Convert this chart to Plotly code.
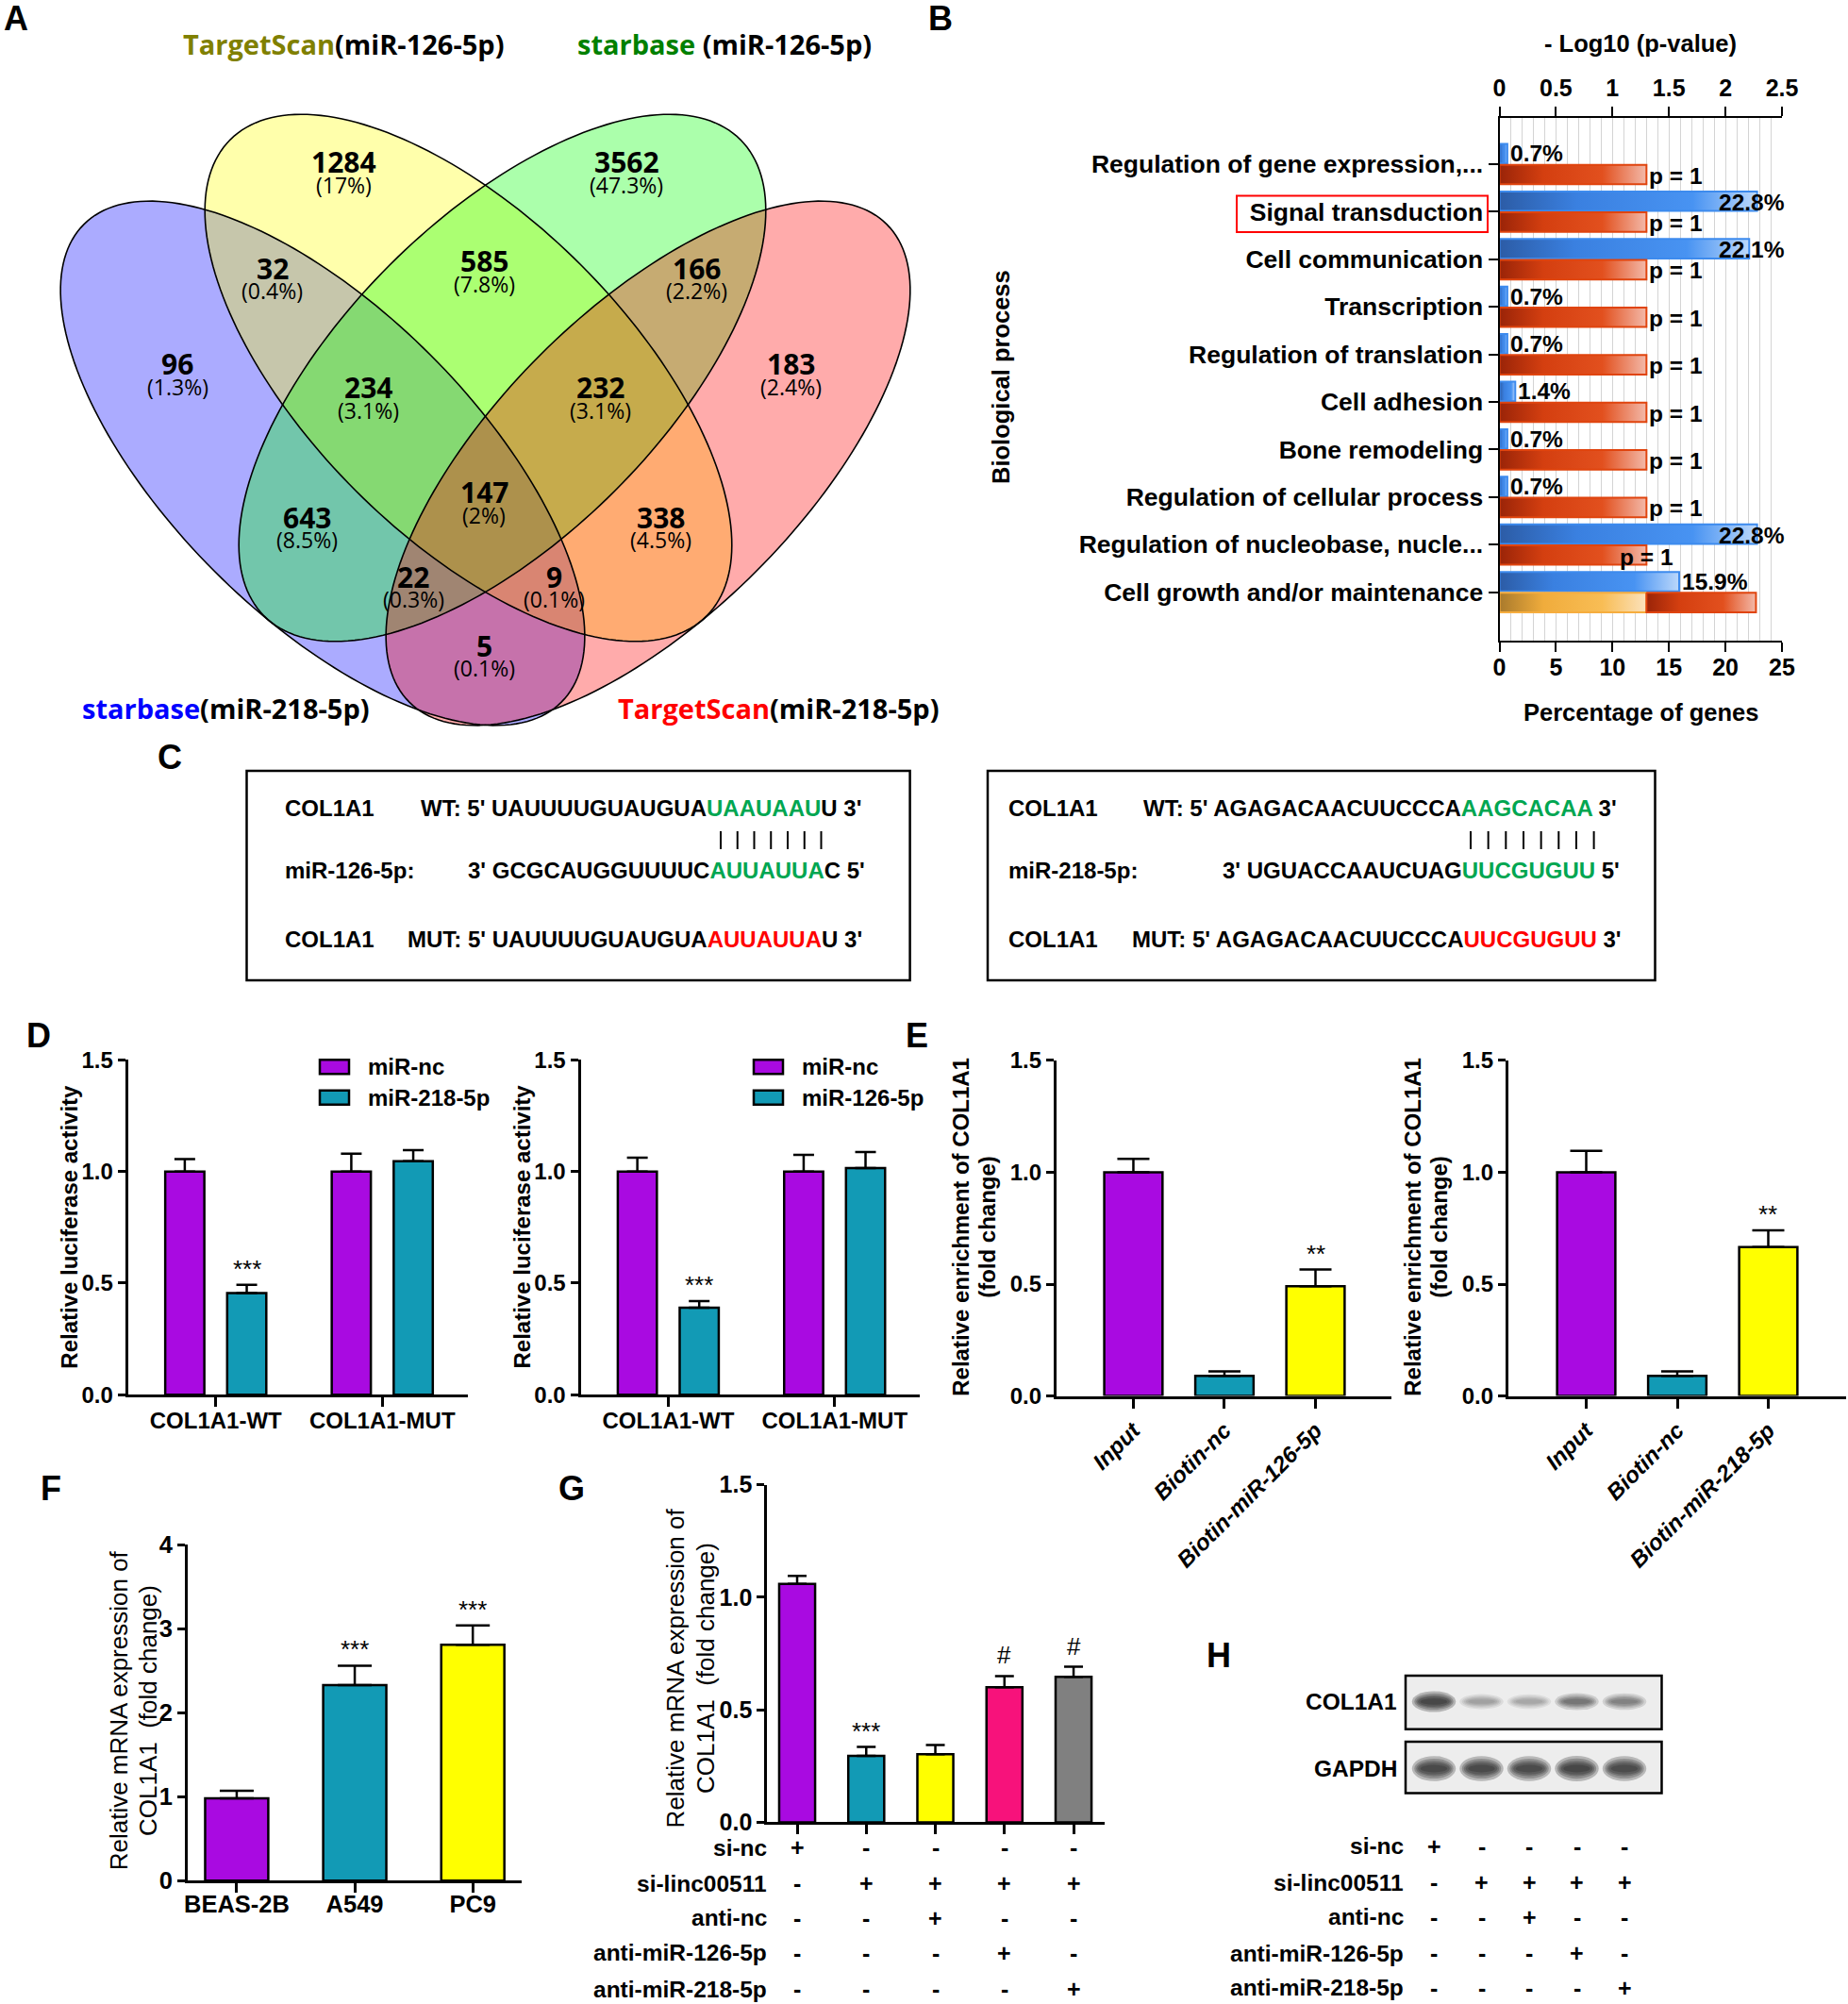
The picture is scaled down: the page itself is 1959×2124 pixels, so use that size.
import numpy as np
import plotly.graph_objects as go

W, H = 1959, 2124
SANS = "Liberation Sans, Arial, Helvetica, sans-serif"
VFONT = "Open Sans, Noto Sans, DejaVu Sans, sans-serif"

# ============================ DATA ============================
# (A) Venn diagram: predicted targets of the two miRNAs in two databases
venn_db = ["starbase", "TargetScan", "starbase", "TargetScan"]
venn_mirna = ["(miR-218-5p)", "(miR-126-5p)", " (miR-126-5p)", "(miR-218-5p)"]
venn_region_counts = [1284, 3562, 32, 585, 166, 96, 234, 232, 183, 147, 643, 338, 22, 9, 5]

# (B) GO biological process enrichment
go_terms = ["Regulation of gene expression,...", "Signal transduction", "Cell communication",
            "Transcription", "Regulation of translation", "Cell adhesion", "Bone remodeling",
            "Regulation of cellular process", "Regulation of nucleobase, nucle...",
            "Cell growth and/or maintenance"]
go_percent = [0.7, 22.8, 22.1, 0.7, 0.7, 1.4, 0.7, 0.7, 22.8, 15.9]
go_neglog10_p = [1.301, 1.301, 1.301, 1.301, 1.301, 1.301, 1.301, 1.301, 1.301, 2.27]
go_p_label = ["p = 1", "p = 1", "p = 1", "p = 1", "p = 1", "p = 1", "p = 1", "p = 1", "p = 1", ""]
go_reference = 1.301  # -log10(0.05)

# (C) binding sites: [label, prefix, matched segment, suffix]
site_left = [["COL1A1", "WT: 5' UAUUUUGUAUGUA", "UAAUAAU", "U 3'"],
             ["miR-126-5p:", "3' GCGCAUGGUUUUC", "AUUAUUA", "C 5'"],
             ["COL1A1", "MUT: 5' UAUUUUGUAUGUA", "AUUAUUA", "U 3'"]]
site_right = [["COL1A1", "WT: 5' AGAGACAACUUCCCA", "AAGCACAA", " 3'"],
              ["miR-218-5p:", "3' UGUACCAAUCUAG", "UUCGUGUU", " 5'"],
              ["COL1A1", "MUT: 5' AGAGACAACUUCCCA", "UUCGUGUU", " 3'"]]

# (D) luciferase reporter
luc_groups = ["COL1A1-WT", "COL1A1-MUT"]
d1_series = ["miR-nc", "miR-218-5p"]
d1_nc = [1.00, 1.00]
d1_nc_err = [0.055, 0.08]
d1_mir = [0.455, 1.046]
d1_mir_err = [0.037, 0.05]
d1_sig = ["***", ""]
d2_series = ["miR-nc", "miR-126-5p"]
d2_nc = [1.00, 1.00]
d2_nc_err = [0.062, 0.075]
d2_mir = [0.39, 1.015]
d2_mir_err = [0.03, 0.072]
d2_sig = ["***", ""]

# (E) RNA pull-down
e1_cats = ["Input", "Biotin-nc", "Biotin-miR-126-5p"]
e1_vals = [1.00, 0.09, 0.49]
e1_err = [0.06, 0.02, 0.075]
e1_sig = ["", "", "**"]
e2_cats = ["Input", "Biotin-nc", "Biotin-miR-218-5p"]
e2_vals = [1.00, 0.09, 0.665]
e2_err = [0.095, 0.02, 0.075]
e2_sig = ["", "", "**"]

# (F) COL1A1 mRNA in cell lines
f_cats = ["BEAS-2B", "A549", "PC9"]
f_vals = [0.98, 2.33, 2.81]
f_err = [0.09, 0.23, 0.23]
f_sig = ["", "***", "***"]

# (G) rescue experiment
g_vals = [1.06, 0.295, 0.303, 0.60, 0.646]
g_err = [0.035, 0.04, 0.04, 0.05, 0.045]
g_sig = ["", "***", "", "#", "#"]

cond_rows = ["si-nc", "si-linc00511", "anti-nc", "anti-miR-126-5p", "anti-miR-218-5p"]
cond_signs = [["+", "-", "-", "-", "-"],
              ["-", "+", "+", "+", "+"],
              ["-", "-", "+", "-", "-"],
              ["-", "-", "-", "+", "-"],
              ["-", "-", "-", "-", "+"]]

# (H) western blot band intensities (relative darkness)
blot_targets = ["COL1A1", "GAPDH"]
blot_intensity = [[1.0, 0.30, 0.27, 0.55, 0.50],
                  [0.95, 0.95, 0.93, 0.97, 0.93]]

# ============================ STYLE ============================
PURPLE, TEAL, YELLOW, PINK, GRAY = "#a90ae1", "#129ab5", "#ffff00", "#f7127b", "#808080"
VENN_TITLE_COLORS = ["#0000ff", "#808000", "#008000", "#ff0000"]
VENN_FILL = ["rgba(0,0,255,0.33)", "rgba(255,255,0,0.33)", "rgba(0,255,0,0.33)", "rgba(255,0,0,0.33)"]
# ellipses (pixel geometry): cx, cy, a, b, angle
VENN_ELLIPSES = [(342, 491, 358, 162, 45), (496.5, 400.5, 357, 169, 45),
                 (532.5, 400.5, 357, 169, -45), (687, 491, 358, 162, -45)]
VENN_TITLE_POS = [(239, 750), (364, 46), (768, 46), (825, 750)]
VENN_LABEL_POS = [(364, 172.5), (664, 172.5), (288.5, 285), (513, 277.5), (738.6, 285),
                  (188, 386.5), (390, 411.5), (636, 411.5), (838, 386.5), (513, 522.5),
                  (325, 549), (700.8, 549), (438, 612), (587, 612), (513, 685)]

fig = go.Figure()
lay = {}
shapes = []
ann = []


def X(px):
    return px / W


def Y(py):
    return 1 - py / H


def axname(n):
    return ("xaxis", "yaxis") if n == 1 else (f"xaxis{n}", f"yaxis{n}")


def axref(n):
    return ("x", "y") if n == 1 else (f"x{n}", f"y{n}")


def text(x, y, s, size=24, weight="bold", color="black", family=SANS, xanchor="center",
         yanchor="middle", angle=0, xref="paper", yref="paper", style="normal", yshift=0, xshift=0):
    if xref == "paper":
        x = X(x)
    if yref == "paper":
        y = Y(y)
    ann.append(dict(x=x, y=y, xref=xref, yref=yref, text=s, showarrow=False, xanchor=xanchor,
                    yanchor=yanchor, textangle=angle, yshift=yshift, xshift=xshift,
                    font=dict(family=family, size=size, color=color, weight=weight, style=style)))


def rect(x0, y0, x1, y1, line="black", lw=2.5, fill=None):
    shapes.append(dict(type="rect", xref="paper", yref="paper", x0=X(x0), x1=X(x1), y0=Y(y1), y1=Y(y0),
                       line=dict(color=line, width=lw), fillcolor=fill if fill else "rgba(0,0,0,0)",
                       layer="above"))


def hidden_axis(n, xdom, ydom, xr, yr):
    xn, yn = axname(n)
    xr_, yr_ = axref(n)
    lay[xn] = dict(domain=[X(xdom[0]), X(xdom[1])], range=xr, visible=False, anchor=yr_, fixedrange=True)
    lay[yn] = dict(domain=[Y(ydom[1]), Y(ydom[0])], range=yr, visible=False, anchor=xr_, fixedrange=True)


def bar_axes(n, xdom, ydom, xr, yr, ydtick, yfmt, tickvals, ticktext, xtickangle=0, xstyle="normal",
             fsize=24, xstandoff=0):
    xn, yn = axname(n)
    xr_, yr_ = axref(n)
    lay[xn] = dict(domain=[X(xdom[0]), X(xdom[1])], range=xr, anchor=yr_, showline=True, linecolor="black",
                   linewidth=3, ticks="outside", ticklen=10, tickwidth=3, tickcolor="black",
                   tickmode="array", tickvals=tickvals, ticktext=ticktext, tickangle=xtickangle,
                   tickfont=dict(family=SANS, size=fsize, color="black", weight="bold", style=xstyle),
                   showgrid=False, zeroline=False, fixedrange=True, automargin=False,
                   ticklabelstandoff=xstandoff)
    lay[yn] = dict(domain=[Y(ydom[1]), Y(ydom[0])], range=yr, anchor=xr_, showline=True, linecolor="black",
                   linewidth=3, ticks="outside", ticklen=8, tickwidth=3, tickcolor="black",
                   tickmode="linear", tick0=0, dtick=ydtick, tickformat=yfmt,
                   tickfont=dict(family=SANS, size=fsize, color="black", weight="bold"),
                   showgrid=False, zeroline=False, fixedrange=True, automargin=False)


def bars(n, xs, ys, errs, colors, width, capw):
    xr_, yr_ = axref(n)
    fig.add_trace(go.Bar(x=xs, y=ys, width=width,
                         marker=dict(color=colors, line=dict(color="black", width=2.5)),
                         error_y=dict(type="data", array=errs, arrayminus=[0] * len(errs), symmetric=False,
                                      color="black", thickness=2.5, width=capw),
                         xaxis=xr_, yaxis=yr_, showlegend=False, hoverinfo="skip"))


def sig(n, xs, ys, errs, marks):
    xr_, yr_ = axref(n)
    for x, y, e, m in zip(xs, ys, errs, marks):
        if m:
            text(x, y + e, m, size=26, weight="normal", xref=xr_, yref=yr_, yanchor="bottom",
                 yshift=0 if "*" in m else 5)


# ============================ PANEL A: Venn ============================
hidden_axis(1, (0, 990), (0, 780), [0, 990], [780, 0])


def ellipse_path(cx, cy, a, b, ang, n=200):
    t = np.linspace(0, 2 * np.pi, n, endpoint=False)
    r = np.radians(ang)
    xs = cx + a * np.cos(t) * np.cos(r) - b * np.sin(t) * np.sin(r)
    ys = cy + a * np.cos(t) * np.sin(r) + b * np.sin(t) * np.cos(r)
    return "M " + " L ".join(f"{x:.2f},{y:.2f}" for x, y in zip(xs, ys)) + " Z"


for (cx, cy, a, b, ang), fc in zip(VENN_ELLIPSES, VENN_FILL):
    shapes.append(dict(type="path", xref="x", yref="y", path=ellipse_path(cx, cy, a, b, ang),
                       fillcolor=fc, line=dict(width=0), layer="above"))
for (cx, cy, a, b, ang) in VENN_ELLIPSES:
    shapes.append(dict(type="path", xref="x", yref="y", path=ellipse_path(cx, cy, a, b, ang),
                       fillcolor="rgba(0,0,0,0)", line=dict(color="black", width=1.6), layer="above"))

total = sum(venn_region_counts)
for c, (lx, ly) in zip(venn_region_counts, VENN_LABEL_POS):
    p = round(100 * c / total, 1)
    ps = f"{p:.1f}".rstrip("0").rstrip(".")
    text(lx, ly - 1, str(c), size=30, family=VFONT, xref="x", yref="y")
    text(lx, ly + 23, f"({ps}%)", size=23, weight="normal", family=VFONT, xref="x", yref="y")

for db, mir, col, (tx, ty) in zip(venn_db, venn_mirna, VENN_TITLE_COLORS, VENN_TITLE_POS):
    text(tx, ty, f'<span style="color:{col}">{db}</span>{mir}', size=29, family=VFONT, xref="x", yref="y")

# ============================ PANEL B: GO bars ============================
B_X0, B_X1, B_Y0, B_Y1 = 1589.5, 1889, 125, 678.5
lay["xaxis2"] = dict(domain=[X(B_X0), X(B_X1)], range=[0, 25], anchor="y2", side="bottom",
                     showline=True, linecolor="black", linewidth=2, ticks="outside", ticklen=10, tickwidth=2,
                     tickcolor="black", tickmode="linear", tick0=0, dtick=5,
                     tickfont=dict(family=SANS, size=25, color="black", weight="bold"),
                     showgrid=True, gridcolor="#d4d4d4", gridwidth=1,
                     minor=dict(tick0=0, dtick=1, showgrid=True, gridcolor="#d4d4d4", gridwidth=1),
                     zeroline=False, fixedrange=True, ticklabelstandoff=-5, automargin=False)
lay["xaxis3"] = dict(domain=[X(B_X0), X(B_X1)], range=[0, 2.5], anchor="y2", overlaying="x2", side="top",
                     showline=True, linecolor="black", linewidth=2, ticks="outside", ticklen=10, tickwidth=2,
                     tickcolor="black", tickmode="linear", tick0=0, dtick=0.5,
                     tickfont=dict(family=SANS, size=25, color="black", weight="bold"),
                     showgrid=False, zeroline=False, fixedrange=True, ticklabelstandoff=1, automargin=False)
lay["yaxis2"] = dict(domain=[Y(B_Y1), Y(B_Y0)], range=[10.01, -0.97], anchor="x2", showline=True,
                     linecolor="black", linewidth=2, ticks="outside", ticklen=10, tickwidth=2, tickcolor="black",
                     tickmode="array", tickvals=list(range(len(go_terms))), ticktext=go_terms,
                     tickfont=dict(family=SANS, size=26.5, color="black", weight="bold"),
                     showgrid=False, zeroline=False, fixedrange=True, automargin=False)

BLUE_CS = [[0, "#2c5ca6"], [0.3, "#3a80e0"], [0.75, "#4893f2"], [1, "#bcd8fb"]]
RED_CS = [[0, "#9a2408"], [0.3, "#d43f10"], [0.7, "#e2501e"], [1, "#f3b9a9"]]
YEL_CS = [[0, "#a97a2c"], [0.3, "#f0ac3c"], [0.7, "#f8bd55"], [1, "#fbe2bd"]]


def grad_bar(xref, x0, x1, yc, half, cs, border):
    fig.add_trace(go.Scatter(x=[x0, x1, x1, x0, x0], y=[yc - half, yc - half, yc + half, yc + half, yc - half],
                             mode="lines", fill="toself",
                             fillgradient=dict(type="horizontal", colorscale=cs),
                             line=dict(color=border, width=2), xaxis=xref, yaxis="y2",
                             showlegend=False, hoverinfo="skip"))


P_LABEL_CENTERED = {8}
for i, (v, p, pl) in enumerate(zip(go_percent, go_neglog10_p, go_p_label)):
    grad_bar("x2", 0, v, i - 0.22, 0.205, BLUE_CS, "#3d8bee")
    if p > go_reference:
        grad_bar("x3", 0, go_reference, i + 0.22, 0.205, YEL_CS, "#f6ad3e")
        grad_bar("x3", go_reference, p, i + 0.22, 0.205, RED_CS, "#e0440e")
    else:
        grad_bar("x3", 0, p, i + 0.22, 0.205, RED_CS, "#e0440e")
    lab = f"{v}%"
    if v + 6 <= 25:
        text(v, i - 0.22, lab, size=24.5, xref="x2", yref="y2", xanchor="left", xshift=1)
    else:
        text(25, i - 0.2, lab, size=24.5, xref="x2", yref="y2", xanchor="right", xshift=5)
    if pl:
        if i in P_LABEL_CENTERED:
            text(p, i + 0.26, pl, size=24.5, xref="x3", yref="y2", xanchor="center")
        else:
            text(p, i + 0.24, pl, size=24.5, xref="x3", yref="y2", xanchor="left", xshift=1)

text(1739, 46, "- Log10 (p-value)", size=25.5)
text(1739, 755, "Percentage of genes", size=25.5)
text(1061, 400, "Biological process", size=25.5, angle=-90)
rect(1311, 207.5, 1577, 246, line="#ff0000", lw=2)

# ============================ PANEL C: sequences ============================
rect(261.5, 817, 964.6, 1039)
rect(1047, 817, 1754.5, 1039)
SEQ_Y = [857, 923, 995]
C_LEFT = dict(label_x=300, seq_x=[444, 494, 430], bar_x0=764, bar_dx=17.75)
C_RIGHT = dict(label_x=1067, seq_x=[1210, 1294, 1198], bar_x0=1559, bar_dx=18.66)
for site, cfg in ((site_left, C_LEFT), (site_right, C_RIGHT)):
    for k, (lab, pre, seg, suf) in enumerate(site):
        col = "#ff0000" if k == 2 else "#00a651"
        text(cfg["label_x"], SEQ_Y[k], lab, size=24, xanchor="left")
        text(cfg["seq_x"][k], SEQ_Y[k], f'{pre}<span style="color:{col}">{seg}</span>{suf}',
             size=24, xanchor="left")
    for j in range(len(site[0][2])):
        bx = cfg["bar_x0"] + j * cfg["bar_dx"]
        shapes.append(dict(type="line", xref="paper", yref="paper", x0=X(bx), x1=X(bx), y0=Y(881), y1=Y(900),
                           line=dict(color="black", width=2)))

# ============================ PANEL D ============================
D_SHIFT, D_W = 0.186, 0.235
gx = list(range(len(luc_groups)))
for n, xdom, nc, nce, mir, mire, sg, series, leg_x in (
        (4, (135.7, 495.6), d1_nc, d1_nc_err, d1_mir, d1_mir_err, d1_sig, d1_series, 339),
        (5, (615.5, 975), d2_nc, d2_nc_err, d2_mir, d2_mir_err, d2_sig, d2_series, 799)):
    bar_axes(n, xdom, (1123.3, 1478.3), [-0.527, 1.512], [0, 1.5], 0.5, ".1f", gx, luc_groups, xstandoff=-6)
    xa = [g - D_SHIFT for g in gx]
    xb = [g + D_SHIFT for g in gx]
    bars(n, xa, nc, nce, PURPLE, D_W, 11)
    bars(n, xb, mir, mire, TEAL, D_W, 11)
    sig(n, xb, mir, mire, sg)
    for k, (s, col) in enumerate(zip(series, (PURPLE, TEAL))):
        yy = 1130.7 + k * 32.5
        rect(leg_x, yy - 7.5, leg_x + 31, yy + 7.5, lw=2.5, fill=col)
        text(leg_x + 49, yy, s, size=24, xanchor="left")
    text(xdom[0] - 63, 1300, "Relative luciferase activity", size=24, angle=-90)

# ============================ PANEL E ============================
E_W = 0.64
for n, xdom, xr, cats, vals, errs, sg in (
        (6, (1119.8, 1475), [-0.846, 2.834], e1_cats, e1_vals, e1_err, e1_sig),
        (7, (1598.8, 1957), [-0.857, 2.855], e2_cats, e2_vals, e2_err, e2_sig)):
    xs = list(range(len(cats)))
    bar_axes(n, xdom, (1123.8, 1479.6), xr, [0, 1.5], 0.5, ".1f", xs, cats, xtickangle=-45, xstyle="italic")
    bars(n, xs, vals, errs, [PURPLE, TEAL, YELLOW], E_W, 17)
    sig(n, xs, vals, errs, sg)
    text(xdom[0] - 102, 1300, "Relative enrichment of COL1A1", size=24, angle=-90)
    text(xdom[0] - 74, 1300, "(fold change)", size=24, angle=-90)

# ============================ PANEL F ============================
fx_ = list(range(len(f_cats)))
bar_axes(8, (199, 553), (1637.4, 1993.2), [-0.415, 2.414], [0, 4], 1, "d", fx_, f_cats, fsize=25.5,
         xstandoff=-10)
bars(8, fx_, f_vals, f_err, [PURPLE, TEAL, YELLOW], 0.535, 18)
sig(8, fx_, f_vals, f_err, f_sig)
text(126.3, 1813, "Relative mRNA expression of", size=26, weight="normal", angle=-90)
text(157, 1813, "COL1A1  (fold change)", size=26, weight="normal", angle=-90)

# ============================ PANEL G ============================
gx5 = list(range(len(g_vals)))
bar_axes(9, (813.3, 1171), (1573.7, 1931.4), [-0.433, 4.45], [0, 1.5], 0.5, ".1f", gx5, [""] * 5, fsize=25)
bars(9, gx5, g_vals, g_err, [PURPLE, TEAL, YELLOW, PINK, GRAY], 0.52, 10)
sig(9, gx5, g_vals, g_err, g_sig)
text(716.4, 1768, "Relative mRNA expression of", size=26, weight="normal", angle=-90)
text(748, 1768, "COL1A1  (fold change)", size=26, weight="normal", angle=-90)
G_ROWS_Y = [1958, 1996, 2032.5, 2069.5, 2108]
for r, (name, signs) in enumerate(zip(cond_rows, cond_signs)):
    text(815, G_ROWS_Y[r], name, size=24.5, xanchor="right")
    for j, s in enumerate(signs):
        ann.append(dict(x=j, y=Y(G_ROWS_Y[r]), xref="x9", yref="paper", text=s, showarrow=False,
                        xanchor="center", yanchor="middle",
                        font=dict(family=SANS, size=25, color="black", weight="bold")))

# ============================ PANEL H ============================
hidden_axis(10, (1489.5, 1761.5), (1770, 1910), [-0.604, 4.782], [1910, 1770])
BLOT_BOX = [(1776, 1832.7), (1846, 1900.5)]
BLOT_YC = [1803.5, 1874.5]
BLOT_H = [13, 16]
for k, (tname, inten) in enumerate(zip(blot_targets, blot_intensity)):
    y0, y1 = BLOT_BOX[k]
    rect(1490, y0, 1761.5, y1, lw=0, fill="#ededed")
    for j, v in enumerate(inten):
        for wf, hf in ((1.18, 1.7), (1.05, 1.35), (0.95, 1.05), (0.85, 0.8), (0.72, 0.5)):
            hw = 0.39 * wf
            hh = BLOT_H[k] * hf * (0.6 + 0.4 * v) / 2
            shapes.append(dict(type="circle", xref="x10", yref="y10", x0=j - hw, x1=j + hw,
                               y0=BLOT_YC[k] - hh, y1=BLOT_YC[k] + hh, fillcolor="#1c1c1c",
                               opacity=0.27 * v, line=dict(width=0), layer="above"))
    rect(1490, y0, 1761.5, y1, lw=2.5)
    text(1483, BLOT_YC[k], tname, size=24.5, xanchor="right")
H_ROWS_Y = [1956.7, 1995, 2031.7, 2070, 2106.7]
for r, (name, signs) in enumerate(zip(cond_rows, cond_signs)):
    text(1489.5, H_ROWS_Y[r], name, size=24.5, xanchor="right")
    for j, s in enumerate(signs):
        ann.append(dict(x=j, y=Y(H_ROWS_Y[r]), xref="x10", yref="paper", text=s, showarrow=False,
                        xanchor="center", yanchor="middle",
                        font=dict(family=SANS, size=25, color="black", weight="bold")))

# ============================ panel letters ============================
for letter, (lx, ly) in zip("ABCDEFGH", [(17, 20), (997, 20), (180, 802), (41, 1097), (972, 1097),
                                         (54, 1577), (606, 1577), (1292, 1754)]):
    text(lx, ly, letter, size=36)

fig.update_layout(width=W, height=H, autosize=False,
                  margin=dict(l=0, r=0, t=0, b=0, pad=0, autoexpand=False), paper_bgcolor="white",
                  plot_bgcolor="rgba(0,0,0,0)", showlegend=False, barmode="overlay",
                  font=dict(family=SANS, color="black"), shapes=shapes, annotations=ann, **lay)
fig.write_html("out.html", config={"displayModeBar": False},
               post_script="document.documentElement.style.margin='0';"
                           "document.body.style.margin='0';document.body.style.padding='0';")
